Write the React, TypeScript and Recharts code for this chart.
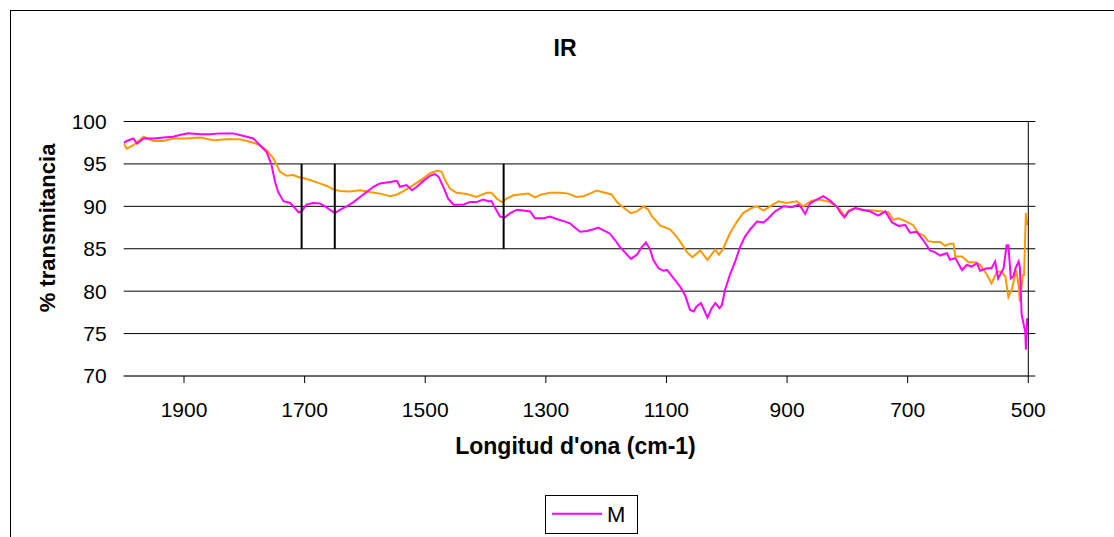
import React from 'react';
import { LineChart, Line, XAxis, YAxis, CartesianGrid, ReferenceLine } from 'recharts';

// wavenumber (cm-1) and % transmittance
const mWave = [2000, 1995, 1984, 1978, 1967, 1951, 1934, 1918, 1907, 1893, 1873, 1857, 1840, 1818, 1801, 1785, 1774, 1763, 1755, 1749, 1744, 1735, 1724, 1710, 1705, 1697, 1686, 1675, 1666, 1658, 1650, 1641, 1630, 1619, 1608, 1597, 1586, 1575, 1564, 1556, 1547, 1542, 1531, 1522, 1514, 1503, 1492, 1484, 1478, 1470, 1462, 1453, 1437, 1426, 1415, 1404, 1395, 1390, 1384, 1376, 1368, 1359, 1348, 1337, 1326, 1318, 1304, 1293, 1282, 1268, 1260, 1252, 1243, 1232, 1221, 1213, 1205, 1194, 1185, 1177, 1169, 1159, 1149, 1141, 1134, 1127, 1122, 1113, 1105, 1099, 1088, 1077, 1069, 1061, 1055, 1050, 1043, 1039, 1032, 1025, 1019, 1012, 1008, 1003, 995, 986, 978, 970, 961, 950, 939, 931, 920, 906, 892, 881, 876, 870, 862, 851, 840, 829, 818, 812, 805, 798, 787, 776, 762, 749, 737, 726, 715, 704, 696, 685, 674, 663, 655, 646, 635, 630, 621, 610, 602, 594, 585, 580, 569, 561, 555, 550, 541, 536, 533, 529, 525, 521, 516, 514, 511, 505, 504, 502];
const mT = [97.5, 97.7, 98.0, 97.4, 98.0, 98.0, 98.1, 98.2, 98.4, 98.6, 98.5, 98.5, 98.6, 98.6, 98.3, 98.0, 97.2, 96.4, 94.9, 92.9, 91.7, 90.6, 90.4, 89.3, 89.4, 90.2, 90.4, 90.35, 90.0, 89.6, 89.2, 89.6, 90.0, 90.5, 91.1, 91.7, 92.3, 92.7, 92.8, 92.9, 93.0, 92.3, 92.5, 91.9, 92.3, 93.0, 93.6, 93.8, 93.5, 92.3, 90.9, 90.2, 90.2, 90.5, 90.5, 90.8, 90.6, 90.6, 89.8, 88.8, 88.7, 89.2, 89.6, 89.5, 89.4, 88.6, 88.6, 88.8, 88.5, 88.2, 88.0, 87.5, 87.0, 87.1, 87.3, 87.5, 87.2, 86.8, 86.0, 85.2, 84.6, 83.8, 84.3, 85.2, 85.75, 84.9, 83.7, 82.7, 82.4, 82.5, 81.5, 80.5, 79.5, 77.8, 77.6, 78.2, 78.6, 78.0, 76.9, 78.0, 78.6, 78.0, 78.4, 80.1, 81.9, 83.5, 85.2, 86.4, 87.3, 88.2, 88.1, 88.6, 89.4, 90.0, 89.9, 90.2, 89.8, 89.1, 90.35, 90.8, 91.2, 90.7, 90.0, 89.3, 88.7, 89.4, 89.8, 89.6, 89.4, 88.9, 89.4, 88.1, 87.7, 87.8, 86.9, 87.0, 86.0, 84.8, 84.6, 84.2, 84.5, 83.7, 83.9, 82.5, 83.1, 82.9, 83.3, 82.4, 82.7, 82.7, 83.5, 81.5, 82.7, 85.4, 85.4, 81.5, 81.7, 82.75, 83.5, 82.8, 77.2, 75.2, 73.1, 76.8];

const oWave = [2000, 1995, 1984, 1967, 1951, 1934, 1918, 1896, 1873, 1851, 1829, 1807, 1785, 1774, 1763, 1752, 1741, 1730, 1719, 1708, 1705, 1691, 1675, 1663, 1652, 1641, 1625, 1608, 1592, 1575, 1558, 1547, 1536, 1520, 1503, 1492, 1481, 1473, 1467, 1459, 1448, 1431, 1415, 1409, 1398, 1390, 1381, 1373, 1365, 1354, 1343, 1329, 1318, 1307, 1293, 1276, 1263, 1249, 1238, 1227, 1216, 1205, 1191, 1182, 1172, 1159, 1149, 1138, 1130, 1124, 1116, 1110, 1105, 1094, 1083, 1075, 1066, 1057, 1044, 1032, 1019, 1013, 1006, 995, 983, 973, 959, 950, 939, 925, 914, 901, 884, 873, 859, 845, 829, 818, 812, 807, 804, 798, 787, 774, 757, 743, 732, 724, 715, 702, 691, 682, 674, 666, 657, 646, 638, 630, 624, 621, 610, 599, 588, 580, 569, 561, 552, 544, 538, 533, 527, 520, 516, 514, 509, 507, 504, 502];
const oT = [97.4, 96.8, 97.2, 98.2, 97.7, 97.7, 98.0, 98.0, 98.1, 97.8, 97.9, 97.9, 97.5, 97.2, 96.6, 95.7, 94.1, 93.6, 93.7, 93.4, 93.4, 93.1, 92.7, 92.4, 92.0, 91.8, 91.75, 91.9, 91.7, 91.5, 91.2, 91.4, 91.8, 92.5, 93.3, 93.9, 94.2, 94.1, 93.1, 92.1, 91.6, 91.45, 91.1, 91.3, 91.6, 91.6, 90.9, 90.5, 90.9, 91.3, 91.4, 91.5, 91.05, 91.4, 91.6, 91.6, 91.5, 91.1, 91.2, 91.5, 91.85, 91.65, 91.4, 90.5, 89.9, 89.2, 89.4, 90.0, 89.6, 88.8, 88.2, 87.7, 87.6, 87.3, 86.4, 85.6, 84.6, 84.0, 84.8, 83.7, 84.9, 84.3, 85.0, 86.8, 88.2, 89.2, 89.8, 90.0, 89.5, 90.15, 90.6, 90.4, 90.6, 90.0, 90.65, 90.8, 90.5, 90.0, 89.6, 89.1, 88.8, 89.5, 89.8, 89.6, 89.5, 89.4, 89.3, 88.4, 88.6, 88.2, 87.8, 86.8, 86.6, 85.9, 85.8, 85.8, 85.35, 85.6, 85.6, 84.1, 84.1, 83.4, 83.4, 83.1, 82.0, 80.9, 82.3, 82.3, 81.7, 79.3, 80.3, 82.5, 80.7, 78.75, 81.9, 81.9, 89.2, 87.8];

// vertical marker bars
const markWave = [1705, 1650, 1370];
const markRange = [85, 95];

const xTicks = [1900, 1700, 1500, 1300, 1100, 900, 700, 500];
const yTicks = [70, 75, 80, 85, 90, 95, 100];

const mData = mWave.map((v, i) => ({ v, t: mT[i] }));
const oData = oWave.map((v, i) => ({ v, t: oT[i] }));

const font = '"Liberation Sans", Arial, sans-serif';

const App = () => {
  return (
    <div style={{ position: 'fixed', left: 0, top: 0, width: 1114, height: 537, overflow: 'hidden', background: '#fff', fontFamily: font }}>
      {/* chart frame, runs off the right and bottom */}
      <div style={{ position: 'absolute', left: 10, top: 10, width: 1200, height: 600, border: '1px solid #000' }} />

      <div style={{ position: 'absolute', left: 0, top: 0 }}>
        <LineChart width={1114} height={537} margin={{ top: 121.5, right: 75.7, bottom: 131, left: 63.7 }}>
          <CartesianGrid vertical={false} stroke="#000" strokeWidth={1} />
          <XAxis
            type="number"
            dataKey="v"
            domain={[500, 2000]}
            reversed
            ticks={xTicks}
            height={30}
            tickSize={7}
            tickMargin={19}
            axisLine={{ stroke: '#555' }}
            tickLine={{ stroke: '#000' }}
            tick={{ fill: '#000', fontSize: 21, fontFamily: font }}
            allowDataOverflow
          />
          <YAxis
            type="number"
            domain={[70, 100]}
            ticks={yTicks}
            width={60}
            axisLine={false}
            tickLine={false}
            tickSize={6}
            tickMargin={11}
            tick={{ fill: '#000', fontSize: 21, fontFamily: font }}
            allowDataOverflow
          />
          <YAxis
            yAxisId="r"
            orientation="right"
            type="number"
            domain={[70, 100]}
            ticks={yTicks}
            width={10}
            axisLine={{ stroke: '#000' }}
            tickLine={{ stroke: '#000' }}
            tickSize={7}
            tick={() => <g />}
            allowDataOverflow
          />
          <Line data={oData} dataKey="t" name="O" stroke="#FF9900" strokeWidth={2} dot={false} isAnimationActive={false} />
          <Line data={mData} dataKey="t" name="M" stroke="#FF00FF" strokeWidth={2} dot={false} isAnimationActive={false} />
          {markWave.map((w) => (
            <ReferenceLine
              key={w}
              segment={[{ x: w, y: markRange[0] }, { x: w, y: markRange[1] }]}
              stroke="#000"
              strokeWidth={2}
            />
          ))}
        </LineChart>
      </div>

      {/* titles and legend */}
      <svg width={1114} height={537} style={{ position: 'absolute', left: 0, top: 0, pointerEvents: 'none' }}>
        <text x={565} y={56} textAnchor="middle" fontSize={23} fontWeight="bold" fontFamily={font}>IR</text>
        <text transform="translate(55,228) rotate(-90)" textAnchor="middle" fontSize={22} fontWeight="bold" fontFamily={font}>% transmitancia</text>
        <text x={575.5} y={454} textAnchor="middle" fontSize={23} fontWeight="bold" fontFamily={font}>Longitud d'ona (cm-1)</text>
        <rect x={545.5} y={495.5} width={92} height={38} fill="#fff" stroke="#000" strokeWidth={1} />
        <line x1={552} y1={513.7} x2={602} y2={513.7} stroke="#FF00FF" strokeWidth={2} />
        <text x={607} y={522} fontSize={22} fontFamily={font}>M</text>
      </svg>
    </div>
  );
};

export default App;
